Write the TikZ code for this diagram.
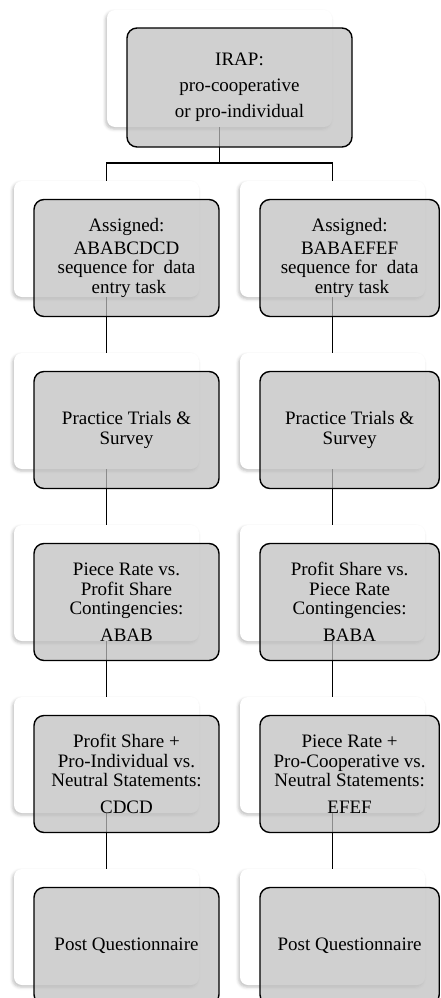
\documentclass[tikz,border=0pt]{standalone}
\usepackage{fontspec}
\setmainfont{Liberation Serif}
\usetikzlibrary{shadows.blur}
\definecolor{boxgray}{gray}{0.75}
\begin{document}
\begin{tikzpicture}[x=1pt,y=-1pt,
  wbox/.style={rectangle, rounded corners=8pt, fill=white, draw=none,
    minimum width=185pt, minimum height=116pt, inner sep=0pt,
    blur shadow={shadow xshift=-1.5pt, shadow yshift=-2pt, shadow blur radius=3pt, shadow opacity=25}},
  gbox/.style={rectangle, rounded corners=10pt, draw=black, line width=1.4pt,
    fill=boxgray, fill opacity=0.73, text opacity=1, draw opacity=1,
    minimum width=185pt, minimum height=117pt, align=center, inner sep=2pt,
    font=\fontsize{19}{19.5}\selectfont},
  rbox/.style={gbox, minimum width=179.3pt},
  conn/.style={draw=black, line width=1.4pt}]
\useasboundingbox (0,0) rectangle (440,998);

% white back boxes
\node[wbox, minimum width=225pt, minimum height=117pt] (w0) at (219.5,68.5) {};
\foreach \lvl/\top in {2/181,3/353,4/525,5/697,6/869}{
  \node[wbox] (wL\lvl) at (106.5,\top+58) {};
  \node[wbox] (wR\lvl) at (332.5,\top+58) {};
}

% connectors
\coordinate (j) at (219.5,163);
\draw[conn] (w0.south) -- (j);
\draw[conn] (wL2.north) |- (j) -| (wR2.north);
\foreach \a/\b in {2/3,3/4,4/5,5/6}{
  \draw[conn] (wL\a.south) -- (wL\b.north);
  \draw[conn] (wR\a.south) -- (wR\b.north);
}

% grey front boxes
\node[gbox, minimum width=225pt, minimum height=119pt] (g0) at (239.5,87.5)
  {IRAP:\\[6.5pt]pro-cooperative\\[6.5pt]or pro-individual};

\node[gbox] (gL2) at (126.5,258) {Assigned:\\[3pt]ABABCDCD\\sequence for\ \ data\\\ entry task};
\node[rbox] (gR2) at (349.6,258) {Assigned:\\[3pt]BABAEFEF\\sequence for\ \ data\\\ entry task};

\node[gbox] (gL3) at (126.5,430) {Practice Trials \&\\Survey};
\node[rbox] (gR3) at (349.6,430) {Practice Trials \&\\Survey};

\node[gbox] (gL4) at (126.5,602) {Piece Rate vs.\\Profit Share\\Contingencies:\\[7pt]ABAB};
\node[rbox] (gR4) at (349.6,602) {Profit Share vs.\\Piece Rate\\Contingencies:\\[7pt]BABA};

\node[gbox] (gL5) at (126.5,774) {Profit Share +\\Pro-Individual vs.\\Neutral Statements:\\[7pt]CDCD};
\node[rbox] (gR5) at (349.6,774) {Piece Rate +\\Pro-Cooperative vs.\\Neutral Statements:\\[7pt]EFEF};

\node[gbox] (gL6) at (126.5,946) {Post Questionnaire};
\node[rbox] (gR6) at (349.6,946) {Post Questionnaire};
\end{tikzpicture}
\end{document}
